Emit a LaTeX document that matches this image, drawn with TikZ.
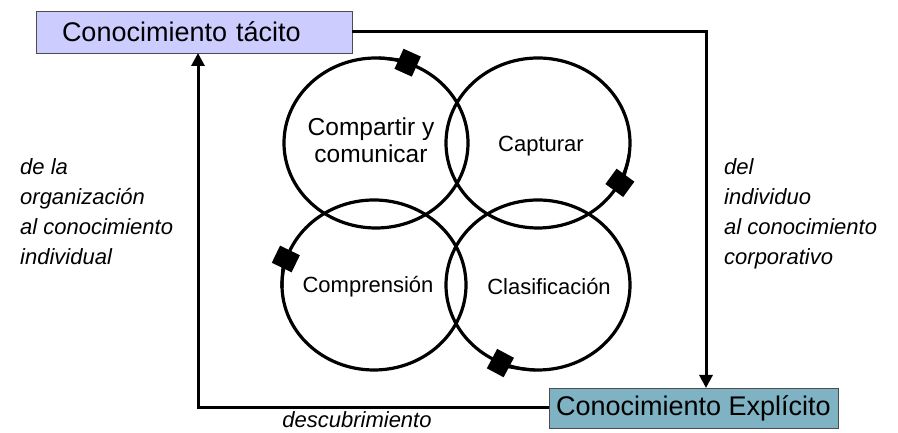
\documentclass[tikz,border=0pt]{standalone}
\usepackage{fontspec}
\setmainfont{Liberation Sans}
\usetikzlibrary{arrows.meta,positioning,calc}
\definecolor{tacito}{RGB}{204,204,255}
\definecolor{explicito}{RGB}{127,178,194}

\begin{document}
\begin{tikzpicture}[x=1pt,y=1pt,
    caja/.style={draw=black!70,line width=0.8pt,inner ysep=0pt,font=\fontsize{27}{30}\selectfont},
    flecha/.style={line width=3pt,-{Triangle[length=13pt,width=13pt]}},
    rueda/.style={line width=3.2pt},
    punta/.style={-{Square[length=19pt,width=22pt]}},
    texto/.style={font=\fontsize{22}{26}\selectfont,align=center},
    lado/.style={font=\fontsize{22}{30}\selectfont\itshape,align=left,inner sep=0pt}]
  \useasboundingbox (0,0) rectangle (898,433);
  % cajas
  \node[caja,fill=tacito,minimum height=42pt,text width=264pt,inner xsep=26pt,align=left]
    (tacito) at (194,401) {Conocimiento tácito};
  \node[caja,fill=explicito,minimum height=40pt,minimum width=289pt,inner xsep=0pt]
    (explicito) at (693.5,25) {Conocimiento Explícito};
  % ciclo
  \def\rx{92pt}
  \def\ry{85pt}
  \foreach \x/\y in {376/290, 538/290, 374/148, 538/148}
    \draw[rueda] (\x,\y) ellipse [x radius=\rx, y radius=\ry];
  \foreach \x/\y/\a/\b in {376/290/88/64, 538/290/-8/-34, 538/148/-92/-120, 374/148/182/156}
    \draw[rueda,punta] (\x,\y) ++(\a:{\rx} and {\ry})
      arc [start angle=\a, end angle=\b, x radius=\rx, y radius=\ry];
  \node[texto,font=\fontsize{24.5}{27}\selectfont] (compartir) at (371,293) {Compartir y\\comunicar};
  \node[texto] (capturar) at (541,287) {Capturar};
  \node[texto] (comprension) at (368,146) {Comprensión};
  \node[texto] (clasificacion) at (549,146) {Clasificación};
  % flujos
  \coordinate (bajada) at (706,45);
  \coordinate (subida) at (198,380);
  \draw[flecha] (tacito.east) -| (bajada);
  \draw[flecha] (explicito.west) -| (subida);
  \node[lado,anchor=north west] (izquierda) at (20,275)
    {de la\\organización\\al conocimiento\\individual};
  \node[lado,anchor=north west] (derecha) at (724,275)
    {del\\individuo\\al conocimiento\\corporativo};
  \node[lado,anchor=base] (descubrimiento) at (357,5) {descubrimiento};
\end{tikzpicture}
\end{document}
